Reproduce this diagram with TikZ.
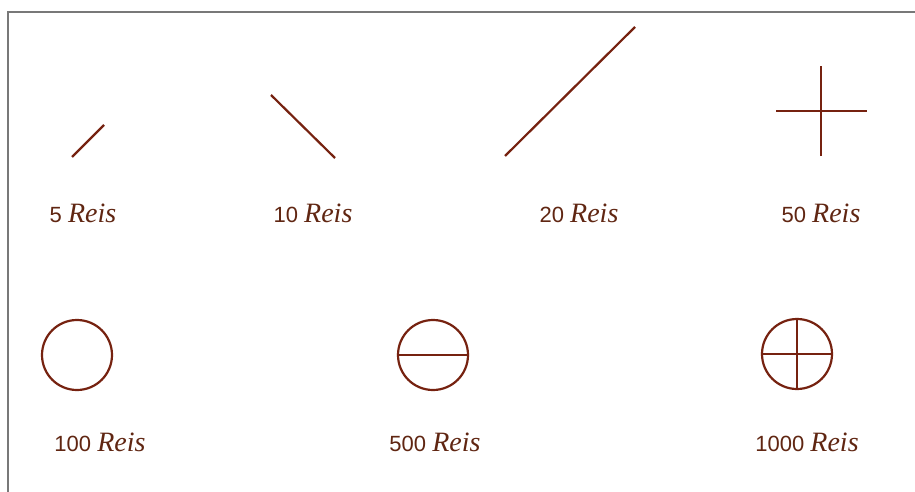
\documentclass[tikz,border=0pt]{standalone}
\usepackage{fontspec}
\setmainfont{Liberation Sans}
\newfontfamily\reisfont{Liberation Serif}
\definecolor{ink}{RGB}{118,34,16}
\definecolor{txt}{RGB}{96,38,18}
\definecolor{frame}{RGB}{120,120,120}
\newcommand{\reis}{{\reisfont\itshape\fontsize{28}{30}\selectfont Reis}}
\begin{document}
\begin{tikzpicture}[x=1pt,y=-1pt,
  sym/.style={draw=ink,line width=2.2pt},
  lbl/.style={text=txt,font=\fontsize{22}{26}\selectfont,inner sep=0pt,anchor=base}]
\useasboundingbox (0,0) rectangle (915,492);
\fill[white] (0,0) rectangle (915,492);
\draw[frame,line width=1.5pt] (8,492) -- (8,12) -- (915,12);
% top row
\coordinate (a1) at (72,157); \coordinate (a2) at (104,125);
\draw[sym] (a1) -- (a2);
\coordinate (b1) at (271,95); \coordinate (b2) at (335,158);
\draw[sym] (b1) -- (b2);
\coordinate (c1) at (505,156); \coordinate (c2) at (635,27);
\draw[sym] (c1) -- (c2);
\coordinate (d) at (821,111);
\draw[sym] ([xshift=-45pt]d) -- ([xshift=46pt]d);
\draw[sym] ([yshift=-45pt]d) -- ([yshift=45pt]d);
\node[lbl] (l5) at (83,222) {5 \reis};
\node[lbl] (l10) at (313,222) {10 \reis};
\node[lbl] (l20) at (579,222) {20 \reis};
\node[lbl] (l50) at (821,222) {50 \reis};
% bottom row
\node[sym,circle,minimum size=70pt,inner sep=0pt] (e) at (77,355) {};
\node[sym,circle,minimum size=70pt,inner sep=0pt] (f) at (433,355) {};
\draw[sym] (f.west) -- (f.east);
\node[sym,circle,minimum size=70pt,inner sep=0pt] (g) at (797,354) {};
\draw[sym] (g.west) -- (g.east);
\draw[sym] (g.north) -- (g.south);
\node[lbl] (l100) at (100,451) {100 \reis};
\node[lbl] (l500) at (435,451) {500 \reis};
\node[lbl] (l1000) at (807,451) {1000 \reis};
\end{tikzpicture}
\end{document}
